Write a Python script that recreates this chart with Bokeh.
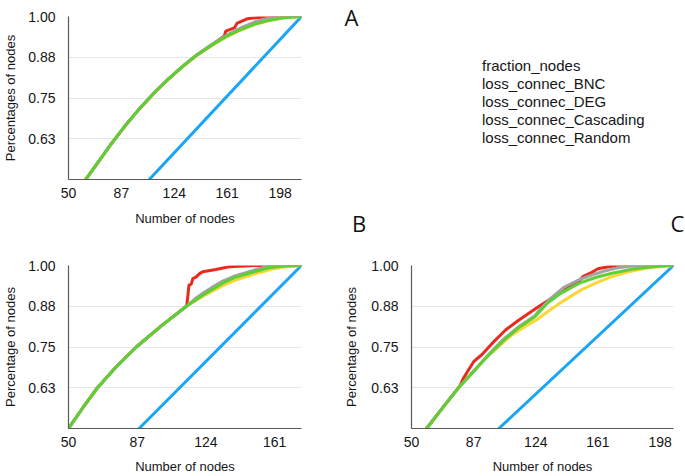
from bokeh.plotting import figure
from bokeh.models import Range1d, FixedTicker, Legend, LegendItem, LinearAxis
from bokeh.layouts import row, column
from bokeh.embed import file_html
from bokeh.resources import INLINE

# ---------------- data ----------------
series_names = ["fraction_nodes", "loss_connec_BNC", "loss_connec_DEG",
                "loss_connec_Cascading", "loss_connec_Random"]
series_colors = ["#1aa5f6", "#5dd038", "#a3a3a3", "#ea2a1c", "#fdd535"]
panel_letters = ["A", "B", "C"]

y_ticks = [0.625, 0.75, 0.875, 1.0]
y_tick_labels = ["0.63", "0.75", "0.88", "1.00"]
x_ticks_A = [50, 87, 124, 161, 198]
x_ticks_B = [50, 87, 124, 161]
x_ticks_C = [50, 87, 124, 161, 198]

# Panel A
xA_blue = [106.5, 213]
yA_blue = [0.5, 1.0]
xA_green = [62, 70, 80, 90, 100, 110, 120, 130, 140, 150, 160, 170, 180, 190, 200, 213]
yA_green = [0.500, 0.549, 0.610, 0.667, 0.719, 0.766, 0.809, 0.848, 0.883, 0.912, 0.938, 0.959, 0.976, 0.988, 0.996, 1.000]
xA_gray = [62, 70, 80, 90, 100, 110, 120, 130, 140, 150, 156, 162, 170, 180, 190, 198, 213]
yA_gray = [0.500, 0.549, 0.610, 0.667, 0.719, 0.766, 0.809, 0.848, 0.883, 0.914, 0.930, 0.946, 0.964, 0.983, 0.995, 1.000, 1.000]
xA_red = [62, 70, 80, 90, 100, 110, 120, 130, 140, 150, 159, 160, 166, 168, 175, 185, 192, 213]
yA_red = [0.500, 0.549, 0.610, 0.667, 0.719, 0.766, 0.809, 0.848, 0.883, 0.912, 0.940, 0.955, 0.965, 0.980, 0.993, 0.998, 1.000, 1.000]
xA_yellow = [62, 70, 80, 90, 100, 110, 120, 130, 140, 150, 160, 170, 180, 190, 200, 213]
yA_yellow = [0.500, 0.548, 0.609, 0.666, 0.718, 0.765, 0.807, 0.846, 0.881, 0.910, 0.936, 0.957, 0.975, 0.987, 0.995, 1.000]

# Panel B
xB_blue = [88, 175.5]
yB_blue = [0.5, 1.0]
xB_green = [50, 58, 65.6, 75, 86.5, 100, 113.5, 122.3, 133, 139, 150, 158, 165, 175.5]
yB_green = [0.500, 0.566, 0.625, 0.685, 0.750, 0.815, 0.875, 0.909, 0.946, 0.962, 0.981, 0.993, 0.998, 1.000]
xB_gray = [50, 58, 65.6, 75, 86.5, 100, 113.5, 118, 122.3, 127, 133, 140, 150, 157, 163, 175.5]
yB_gray = [0.500, 0.566, 0.625, 0.685, 0.750, 0.815, 0.875, 0.897, 0.915, 0.932, 0.952, 0.969, 0.986, 0.996, 1.000, 1.000]
xB_red = [50, 58, 65.6, 75, 86.5, 100, 113.5, 113.8, 114.9, 116.1, 117, 118.8, 120.6, 122.3, 129.4, 136.5, 152.5, 175.5]
yB_red = [0.500, 0.566, 0.625, 0.685, 0.750, 0.815, 0.875, 0.882, 0.940, 0.943, 0.960, 0.965, 0.975, 0.981, 0.988, 0.996, 1.000, 1.000]
xB_yellow = [50, 58, 65.6, 75, 86.5, 100, 113.5, 122.3, 133, 140, 150, 160, 168, 175.5]
yB_yellow = [0.500, 0.566, 0.625, 0.685, 0.750, 0.815, 0.875, 0.905, 0.938, 0.955, 0.974, 0.989, 0.997, 1.000]

# Panel C
xC_blue = [102, 206]
yC_blue = [0.5, 1.0]
xC_green = [59, 70, 78, 87, 95, 105, 114, 123.5, 131, 138, 150, 160, 170, 182, 195, 206]
yC_green = [0.500, 0.573, 0.625, 0.675, 0.720, 0.771, 0.810, 0.843, 0.885, 0.912, 0.946, 0.964, 0.977, 0.989, 0.997, 1.000]
xC_gray = [59, 70, 78, 87, 95, 105, 114, 123.5, 126, 133, 141, 150, 158, 165, 172, 180, 190, 206]
yC_gray = [0.500, 0.573, 0.625, 0.676, 0.722, 0.775, 0.813, 0.846, 0.862, 0.900, 0.934, 0.957, 0.972, 0.983, 0.992, 0.998, 1.000, 1.000]
xC_red = [59, 70, 79, 81, 84, 87, 92, 98, 106, 114, 124, 132, 138, 144, 150, 152, 157, 161, 168, 175, 206]
yC_red = [0.500, 0.573, 0.632, 0.655, 0.680, 0.705, 0.727, 0.761, 0.802, 0.833, 0.868, 0.895, 0.915, 0.935, 0.952, 0.966, 0.978, 0.990, 0.997, 1.000, 1.000]
xC_yellow = [59, 78, 95, 110, 118, 125, 131, 137, 144, 151, 160, 169, 178, 190, 206]
yC_yellow = [0.500, 0.625, 0.720, 0.788, 0.814, 0.835, 0.858, 0.880, 0.903, 0.925, 0.947, 0.965, 0.979, 0.992, 1.000]

FONT = "Liberation Sans"
TXT = "#161616"


def panel(width, height, x_end, xticks, ylabel, bl, br, bt, bb,
          y_standoff, y_label_standoff, x_standoff, x_label_standoff, data):
    p = figure(width=width, height=height, x_range=Range1d(50, x_end),
               y_range=Range1d(0.5, 1.0), output_backend="svg",
               toolbar_location=None, min_border_left=bl, min_border_right=br,
               min_border_top=bt, min_border_bottom=bb)
    p.outline_line_color = None
    p.background_fill_color = "white"
    p.border_fill_color = "white"
    p.xgrid.grid_line_color = None
    p.ygrid.grid_line_color = "#e6e6e6"
    p.ygrid.grid_line_width = 1
    p.xaxis.ticker = FixedTicker(ticks=xticks)
    p.yaxis.ticker = FixedTicker(ticks=y_ticks)
    p.yaxis.major_label_overrides = dict(zip(y_ticks, y_tick_labels))
    for ax in (p.xaxis[0], p.yaxis[0]):
        ax.axis_line_color = "#5a5a5a"
        ax.axis_line_width = 1.2
        ax.major_tick_line_color = None
        ax.minor_tick_line_color = None
        ax.major_tick_out = 0
        ax.major_tick_in = 0
        ax.major_label_text_font = FONT
        ax.major_label_text_font_size = "14px"
        ax.major_label_text_color = TXT
        ax.axis_label_text_font = FONT
        ax.axis_label_text_font_size = "13px"
        ax.axis_label_text_font_style = "normal"
        ax.axis_label_text_color = TXT
    p.xaxis.axis_label = "Number of nodes"
    p.yaxis.axis_label = ylabel
    p.yaxis.major_label_standoff = y_standoff
    p.yaxis.axis_label_standoff = y_label_standoff
    p.xaxis.major_label_standoff = x_standoff
    p.xaxis.axis_label_standoff = x_label_standoff
    # draw order: blue, yellow, red, gray, green
    for i in [0, 4, 3, 2, 1]:
        xs, ys = data[i]
        p.line(xs, ys, line_color=series_colors[i], line_width=3,
               line_join="round", line_cap="round")
    return p


# row 1: 240 px tall, row 2: 236 px tall; columns 340 + 345 px
pA = panel(340, 240, 213, x_ticks_A, "Percentages of nodes", 64, 39, 16, 61,
           13, 7, 8, 10,
           [(xA_blue, yA_blue), (xA_green, yA_green), (xA_gray, yA_gray),
            (xA_red, yA_red), (xA_yellow, yA_yellow)])
pB = panel(340, 236, 175.5, x_ticks_B, "Percentage of nodes", 64, 39, 25, 48,
           13, 7, 8, 9,
           [(xB_blue, yB_blue), (xB_green, yB_green), (xB_gray, yB_gray),
            (xB_red, yB_red), (xB_yellow, yB_yellow)])
pC = panel(345, 236, 206, x_ticks_C, "Percentage of nodes", 71, 12, 25, 48,
           13, 9, 8, 9,
           [(xC_blue, yC_blue), (xC_green, yC_green), (xC_gray, yC_gray),
            (xC_red, yC_red), (xC_yellow, yC_yellow)])

# legend + panel letters figure; its frame is vertically aligned with panel A's
# frame; ranges chosen so that data units equal page pixels
pL = figure(width=345, height=240, x_range=Range1d(358, 685), y_range=Range1d(179, 16),
            x_axis_type=None, y_axis_type=None, output_backend="svg",
            toolbar_location=None, min_border_left=18, min_border_right=0,
            min_border_top=16, min_border_bottom=61)
pL.outline_line_color = None
pL.xgrid.grid_line_color = None
pL.ygrid.grid_line_color = None

items = []
for name, col in zip(series_names, series_colors):
    r = pL.line(x=[], y=[], line_color=col, line_width=3)
    items.append(LegendItem(label=name, renderers=[r]))
legend = Legend(items=items, location=(101, 33), padding=0, margin=0, spacing=0,
                label_height=18, glyph_height=18, glyph_width=14, label_standoff=9,
                border_line_color=None, background_fill_alpha=0,
                label_text_font=FONT, label_text_font_size="15px",
                label_text_color=TXT)
pL.add_layout(legend)


def letter_axis(ticks, labels, standoff):
    return LinearAxis(ticker=FixedTicker(ticks=ticks),
                      major_label_overrides=dict(zip(ticks, labels)),
                      axis_line_color=None, major_tick_line_color=None,
                      minor_tick_line_color=None, major_tick_out=0, major_tick_in=0,
                      major_label_standoff=standoff, major_label_text_font="Open Sans",
                      major_label_text_font_size="22px",
                      major_label_text_color="#111111")


# panel letters drawn as tick labels of bare axes on the legend figure
pL.add_layout(letter_axis([16.5], panel_letters[:1], 0), "left")
pL.add_layout(letter_axis([358.5, 677], panel_letters[1:], 28), "below")

layout = column(row(pA, pL), row(pB, pC))
open("out.html", "w").write(file_html(layout, INLINE))
